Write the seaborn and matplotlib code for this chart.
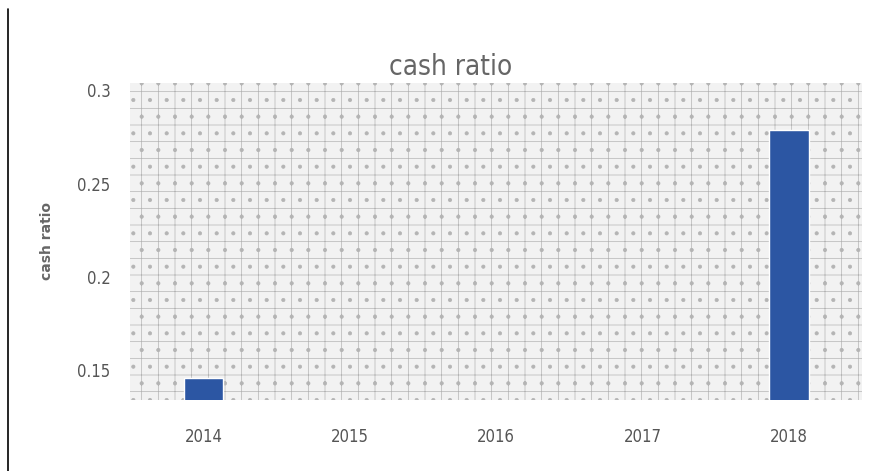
import matplotlib
matplotlib.use('Agg')
import matplotlib.pyplot as plt
from matplotlib.lines import Line2D
from matplotlib.patches import Rectangle
import pandas as pd
import seaborn as sns

years = ['2014', '2015', '2016', '2017', '2018']
cash_ratio = [0.146, None, None, None, 0.279]

df = pd.DataFrame({'year': years, 'cash ratio': cash_ratio})

sns.set_style('white')
plt.rcParams['font.family'] = ['DejaVu Sans']
plt.rcParams['font.stretch'] = 'condensed'
plt.rcParams['hatch.color'] = '#b4b4b4'
plt.rcParams['hatch.linewidth'] = 0.5

fig = plt.figure(figsize=(8.79, 4.71), dpi=100)
ax = fig.add_axes([0.148, 0.151, 0.833, 0.673])

# textured background
ax.set_facecolor('#f2f2f2')
ax.add_patch(Rectangle((0, 0), 1, 1, transform=ax.transAxes, facecolor='none',
                       hatch='+.', edgecolor='#b4b4b4', lw=0, zorder=0))

sns.barplot(data=df, x='year', y='cash ratio', color='#2c56a3', width=0.27,
            saturation=1, ax=ax, zorder=2)

ax.set_ylim(0.134, 0.304)
ax.set_xlim(-0.5, 4.5)
ax.set_yticks([0.15, 0.2, 0.25, 0.3])
ax.set_yticklabels(['0.15', '0.2', '0.25', '0.3'])
ax.tick_params(colors='#555555', labelsize=12, length=0, pad=14)
ax.tick_params(axis='x', pad=20)
for s in ax.spines.values():
    s.set_visible(False)

fig.text(0.513, 0.84, 'cash ratio', fontsize=20, color='#666666', ha='center', va='baseline')
ax.set_ylabel('cash ratio', fontsize=10, fontweight='bold', color='#666666',
              labelpad=17, fontstretch='normal')
ax.set_xlabel('')

fig.add_artist(Line2D([0.009, 0.009], [0.0, 0.98], color='black', lw=1.2,
                      transform=fig.transFigure))

plt.savefig('out.png')
